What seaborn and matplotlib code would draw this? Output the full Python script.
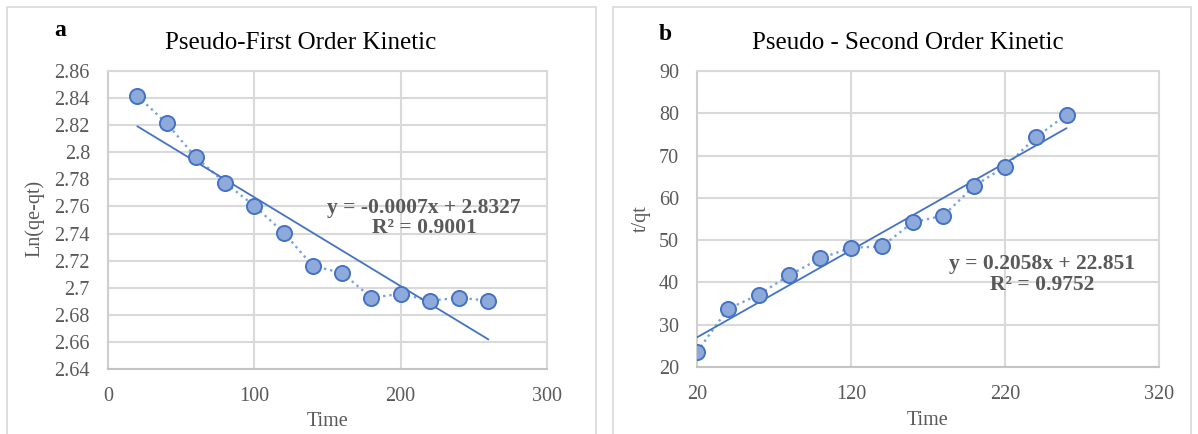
import matplotlib
matplotlib.use('Agg')
import matplotlib.pyplot as plt
import seaborn as sns
import pandas as pd
from matplotlib.patches import Rectangle

# ---- data ----
time_a = [20, 40, 60, 80, 100, 120, 140, 160, 180, 200, 220, 240, 260]
ln_qe_qt = [2.8417, 2.8215, 2.7963, 2.7775, 2.7605, 2.7407, 2.7161, 2.7109,
            2.6926, 2.6955, 2.6904, 2.6926, 2.6904]
time_b = [20, 40, 60, 80, 100, 120, 140, 160, 180, 200, 220, 240, 260]
t_qt = [23.6, 33.7, 37.1, 41.7, 45.7, 48.2, 48.5, 54.2, 55.8, 62.8, 67.4, 74.3, 79.7]

xticks_a = [0, 100, 200, 300]
yticks_a = [2.64, 2.66, 2.68, 2.70, 2.72, 2.74, 2.76, 2.78, 2.80, 2.82, 2.84, 2.86]
ytick_labels_a = ['2.64', '2.66', '2.68', '2.7', '2.72', '2.74', '2.76', '2.78',
                  '2.8', '2.82', '2.84', '2.86']
xticks_b = [20, 120, 220, 320]
yticks_b = [20, 30, 40, 50, 60, 70, 80, 90]

title_a = 'Pseudo-First Order Kinetic'
title_b = 'Pseudo - Second Order Kinetic'
eq_a = 'y = -0.0007x + 2.8327\nR² = 0.9001'
eq_b = 'y = 0.2058x + 22.851\nR² = 0.9752'

df_a = pd.DataFrame({'Time': time_a, 'Ln(qe-qt)': ln_qe_qt})
df_b = pd.DataFrame({'Time': time_b, 't/qt': t_qt})

# ---- style ----
sns.set_theme(style='white')
plt.rcParams['font.family'] = ['Liberation Serif', 'DejaVu Serif']

W, H = 1198, 434
fig = plt.figure(figsize=(W / 100, H / 100), dpi=100)
fig.patch.set_facecolor('white')


def fx(px):
    return px / W


def fy(py):
    return 1 - py / H


GRID = '#D9D9D9'
TXT = '#595959'
DOT = '#7AA3D8'
TREND = '#4472C4'
FACE = '#8EAADB'

# panel borders
for x0, x1 in [(7, 596), (613, 1191)]:
    fig.patches.append(Rectangle((fx(x0), fy(445)), (x1 - x0) / W, (445 - 7) / H,
                                 transform=fig.transFigure, fill=False,
                                 edgecolor=GRID, lw=1.2))

ax1 = fig.add_axes([fx(108), fy(369), (547 - 108) / W, (369 - 71) / H])
ax2 = fig.add_axes([fx(697), fy(367), (1159 - 697) / W, (367 - 71) / H])


def draw(ax, df, xcol, ycol):
    sns.lineplot(data=df, x=xcol, y=ycol, ax=ax, color=DOT, linestyle=':',
                 linewidth=1.7, zorder=2)
    sns.regplot(data=df, x=xcol, y=ycol, ax=ax, scatter=False, ci=None,
                truncate=True, line_kws=dict(color=TREND, lw=1.3, zorder=3))
    sns.scatterplot(data=df, x=xcol, y=ycol, ax=ax, s=118, color=FACE,
                    edgecolor=TREND, linewidth=1.4, zorder=4)
    ax.grid(True, color=GRID, lw=1.5)
    ax.set_axisbelow(True)
    for s in ax.spines.values():
        s.set_color(GRID)
        s.set_linewidth(1.5)
    ax.spines['bottom'].set_color('#C4C4C4')
    ax.spines['left'].set_color('#CFCFCF')
    ax.tick_params(length=0, pad=13, labelsize=14.5, labelcolor=TXT)


draw(ax1, df_a, 'Time', 'Ln(qe-qt)')
ax1.set_xlim(0, 300)
ax1.set_ylim(2.64, 2.86)
ax1.set_xticks(xticks_a)
ax1.set_yticks(yticks_a)
ax1.set_yticklabels(ytick_labels_a)
ax1.set_xlabel('Time', fontsize=14.5, color=TXT)
ax1.set_ylabel('Ln(qe-qt)', fontsize=14.5, color=TXT)
ax1.xaxis.set_label_coords(0.5, -0.145)
ax1.yaxis.set_label_coords(-0.145, 0.505)
ax1.text(216, 2.7515, eq_a, ha='center', va='center', fontweight='bold',
         fontsize=15.5, color=TXT, linespacing=1.05)

draw(ax2, df_b, 'Time', 't/qt')
ax2.set_xlim(20, 320)
ax2.set_ylim(20, 90)
ax2.set_xticks(xticks_b)
ax2.set_yticks(yticks_b)
ax2.set_xlabel('Time', fontsize=14.5, color=TXT)
ax2.set_ylabel('t/qt', fontsize=14.5, color=TXT)
ax2.xaxis.set_label_coords(0.5, -0.15)
ax2.yaxis.set_label_coords(-0.1, 0.5)
ax2.text(244, 41.8, eq_b, ha='center', va='center', fontweight='bold',
         fontsize=15.5, color=TXT, linespacing=1.05)

fig.text(fx(301), fy(43), title_a, ha='center', va='center', fontsize=18, color='black')
fig.text(fx(908), fy(43), title_b, ha='center', va='center', fontsize=18, color='black')
fig.text(fx(60), fy(31), 'a', ha='center', va='center', fontsize=17,
         fontweight='bold', color='black')
fig.text(fx(665), fy(34), 'b', ha='center', va='center', fontsize=17,
         fontweight='bold', color='black')

fig.savefig('out.png', dpi=100)
